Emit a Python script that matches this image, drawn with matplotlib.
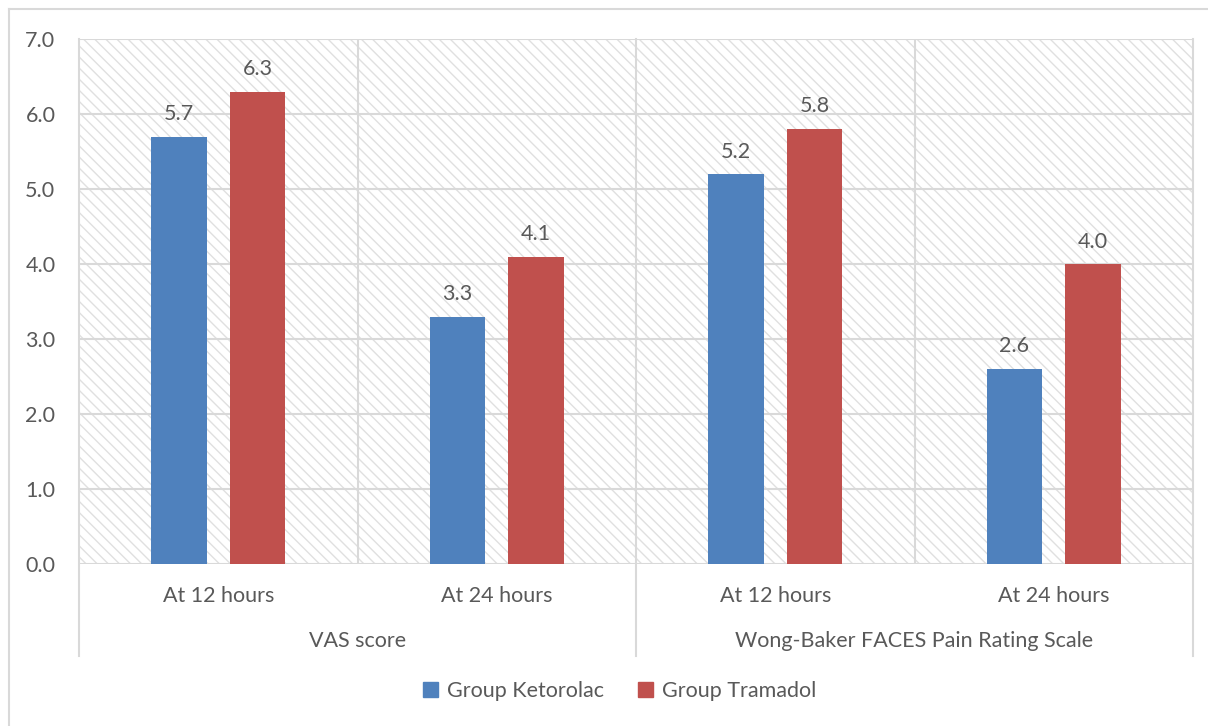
import matplotlib
matplotlib.use("Agg")
import matplotlib.pyplot as plt
from matplotlib.patches import Rectangle
from matplotlib.lines import Line2D
import matplotlib.transforms as mtransforms
import numpy as np

# Data
time_points = ["At 12 hours", "At 24 hours", "At 12 hours", "At 24 hours"]
scales = ["VAS score", "Wong-Baker FACES Pain Rating Scale"]
series_names = ["Group Ketorolac", "Group Tramadol"]
ketorolac = [5.7, 3.3, 5.2, 2.6]
tramadol = [6.3, 4.1, 5.8, 4.0]
y_ticks = [0.0, 1.0, 2.0, 3.0, 4.0, 5.0, 6.0, 7.0]

BLUE = "#4F81BD"
RED = "#C0504D"
GRID = "#D9D9D9"
TEXT = "#595959"
FS = 15.5

plt.rcParams["font.family"] = ["Lato", "DejaVu Sans"]
plt.rcParams["hatch.linewidth"] = 1.0

fig = plt.figure(figsize=(12.08, 7.26), dpi=100)
ax = fig.add_axes([79 / 1208, 1 - 564 / 726, (1193 - 79) / 1208, (564 - 39) / 726])

# hatched plot-area background
bg = Rectangle((0, 0), 1, 1, transform=ax.transAxes, facecolor="white",
               edgecolor="#E0E0E0", hatch="\\\\\\", linewidth=0, zorder=0)
ax.add_patch(bg)

x = np.arange(len(time_points))
width = 0.198
offset = 0.141
b1 = ax.bar(x - offset, ketorolac, width, color=BLUE, zorder=3, label=series_names[0])
b2 = ax.bar(x + offset, tramadol, width, color=RED, zorder=3, label=series_names[1])

for bars, vals in ((b1, ketorolac), (b2, tramadol)):
    for rect, v in zip(bars, vals):
        ax.annotate(f"{v:.1f}", (rect.get_x() + rect.get_width() / 2, v),
                    xytext=(0, 9), textcoords="offset points",
                    ha="center", va="bottom", fontsize=FS, color=TEXT, zorder=4)

ax.set_xlim(-0.5, 3.5)
ax.set_ylim(0, 7)
ax.set_yticks(y_ticks)
ax.set_yticklabels([f"{t:.1f}" for t in y_ticks])
ax.set_xticks(x)
ax.set_xticklabels(time_points)
ax.tick_params(axis="y", length=0, pad=17, labelsize=FS, labelcolor=TEXT)
ax.tick_params(axis="x", length=0, pad=16, labelsize=FS, labelcolor=TEXT)

# gridlines
for t in y_ticks:
    ax.axhline(t, color=GRID, lw=1.5, zorder=1)
for xv in [0.5, 2.5]:
    ax.axvline(xv, color=GRID, lw=1.5, zorder=1)

for s in ax.spines.values():
    s.set_visible(False)

# group separators reaching into the label area
trans = mtransforms.blended_transform_factory(ax.transData, ax.transAxes)
low = -(656 - 564) / 525
for xv in [-0.5, 1.5, 3.5]:
    ax.add_line(Line2D([xv, xv], [low, 1], transform=trans, color=GRID,
                       lw=1.5, clip_on=False, zorder=1))

# group labels
for i, name in enumerate(scales):
    ax.text(0.5 + 2 * i, -(641 - 564) / 525, name, transform=trans,
            ha="center", va="center", fontsize=FS, color=TEXT)

# legend
fig.legend(handles=[Rectangle((0, 0), 1, 1, color=BLUE), Rectangle((0, 0), 1, 1, color=RED)],
           labels=series_names, loc="center", bbox_to_anchor=(0.513, 1 - 691 / 726),
           ncol=2, frameon=False, fontsize=FS, labelcolor=TEXT,
           handlelength=0.7, handleheight=0.7, handletextpad=0.4, columnspacing=1.6)

# outer chart frame
fig.add_artist(Line2D([9 / 1208, 9 / 1208], [0, 1 - 9 / 726], transform=fig.transFigure,
                      color=GRID, lw=1.5))
fig.add_artist(Line2D([9 / 1208, 1], [1 - 9 / 726, 1 - 9 / 726], transform=fig.transFigure,
                      color=GRID, lw=1.5))

fig.savefig("out.png", dpi=100)
